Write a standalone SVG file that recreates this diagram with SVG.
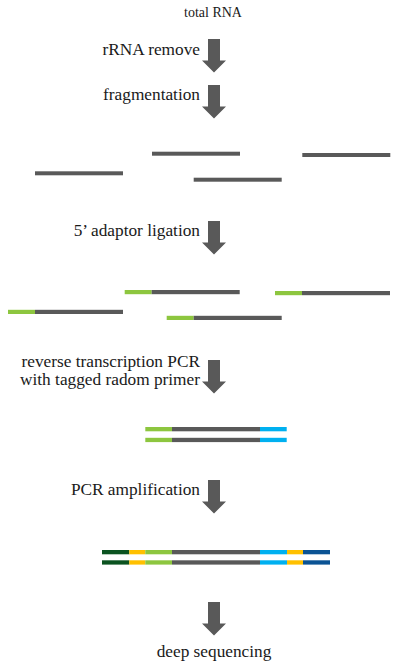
<svg xmlns="http://www.w3.org/2000/svg" xmlns:xlink="http://www.w3.org/1999/xlink" width="400" height="668" viewBox="0 0 400 668">
<style>
text{font-family:"Liberation Serif","Times New Roman",serif;fill:#1a1a1a}
.g{fill:#595959}.lg{fill:#8DC63F}.bl{fill:#00B0F0}.dg{fill:#0B5320}.yl{fill:#FFC000}.db{fill:#0B5394}
.arw{fill:#595959}
</style>
<defs>
<path id="arrow" class="arw" d="M-6,0 H6 V21.5 H12 L0,33.5 L-12,21.5 H-6 Z"/>
</defs>
<rect width="400" height="668" fill="#fff"/>
<g id="connectors">
<use xlink:href="#arrow" x="214" y="39"/>
<use xlink:href="#arrow" x="214" y="85"/>
<use xlink:href="#arrow" x="214" y="221"/>
<use xlink:href="#arrow" x="214" y="360"/>
<use xlink:href="#arrow" x="214" y="480"/>
<use xlink:href="#arrow" x="214" y="602"/>
</g>
<g id="labels" font-size="17.3">
<text font-size="14" x="213" y="17" text-anchor="middle">total RNA</text>
<text x="200" y="55" text-anchor="end">rRNA remove</text>
<text x="200" y="100" text-anchor="end">fragmentation</text>
<text x="200" y="236" text-anchor="end">5’ adaptor ligation</text>
<text x="200" y="367" text-anchor="end">reverse transcription PCR</text>
<text x="200" y="384.5" text-anchor="end">with tagged radom primer</text>
<text x="200" y="495" text-anchor="end">PCR amplification</text>
<text x="214" y="657" text-anchor="middle">deep sequencing</text>
</g>
<g id="fragments">
<rect class="g" x="152" y="151.7" width="88" height="4"/>
<rect class="g" x="302.3" y="153" width="88" height="4"/>
<rect class="g" x="35" y="171.3" width="88" height="4"/>
<rect class="g" x="193.7" y="177.7" width="88" height="4"/>
</g>
<g id="ligated">
<rect class="lg" x="124.7" y="290" width="27" height="4.2"/><rect class="g" x="151.7" y="290" width="88" height="4.2"/>
<rect class="lg" x="275" y="291" width="27" height="4.2"/><rect class="g" x="302" y="291" width="88" height="4.2"/>
<rect class="lg" x="8" y="309.8" width="27" height="4.2"/><rect class="g" x="35" y="309.8" width="88" height="4.2"/>
<rect class="lg" x="166.7" y="315.8" width="27" height="4.2"/><rect class="g" x="193.7" y="315.8" width="88" height="4.2"/>
</g>
<g id="rt-products">
<rect class="lg" x="145.3" y="427" width="26.7" height="4.3"/><rect class="g" x="172" y="427" width="88" height="4.3"/><rect class="bl" x="260" y="427" width="26.7" height="4.3"/>
<rect class="lg" x="145.3" y="437.8" width="26.7" height="4.3"/><rect class="g" x="172" y="437.8" width="88" height="4.3"/><rect class="bl" x="260" y="437.8" width="26.7" height="4.3"/>
</g>
<g id="pcr-products">
<rect class="dg" x="102" y="550" width="27.3" height="4.3"/><rect class="yl" x="129.3" y="550" width="16" height="4.3"/><rect class="lg" x="145.3" y="550" width="26.7" height="4.3"/><rect class="g" x="172" y="550" width="88" height="4.3"/><rect class="bl" x="260" y="550" width="27" height="4.3"/><rect class="yl" x="287" y="550" width="16" height="4.3"/><rect class="db" x="303" y="550" width="27" height="4.3"/>
<rect class="dg" x="102" y="560.3" width="27.3" height="4.3"/><rect class="yl" x="129.3" y="560.3" width="16" height="4.3"/><rect class="lg" x="145.3" y="560.3" width="26.7" height="4.3"/><rect class="g" x="172" y="560.3" width="88" height="4.3"/><rect class="bl" x="260" y="560.3" width="27" height="4.3"/><rect class="yl" x="287" y="560.3" width="16" height="4.3"/><rect class="db" x="303" y="560.3" width="27" height="4.3"/>
</g>
</svg>
